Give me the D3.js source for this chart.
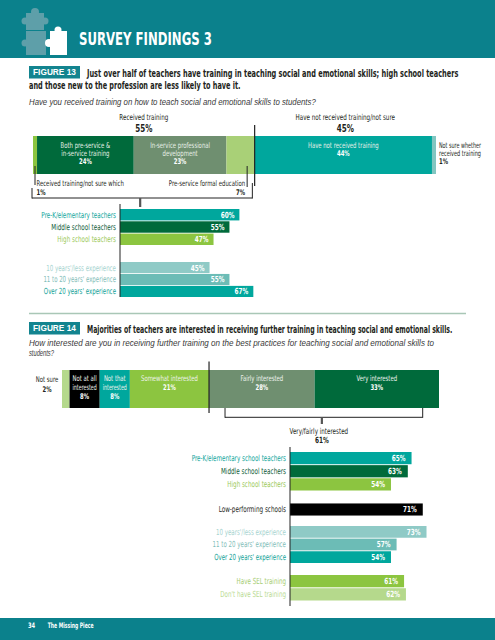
<!DOCTYPE html>
<html><head><meta charset="utf-8">
<script src="https://cdn.jsdelivr.net/npm/d3@7"></script>
<style>body{margin:0;background:#fff}svg{display:block}</style>
</head><body>
<script>
// ---------- DATA ----------
const fig13Segments = ["Received training/not sure which","Both pre-service & in-service training","In-service professional development","Pre-service formal education","Have not received training","Not sure whether received training"];
const fig13Values = [1,24,23,7,44,1];
const fig13Groups = ["Received training","Have not received training/not sure"];
const fig13GroupValues = [55,45];
const fig13LevelCats = ["Pre-K/elementary teachers","Middle school teachers","High school teachers"];
const fig13LevelValues = [60,55,47];
const fig13ExpCats = ["10 years'/less experience","11 to 20 years' experience","Over 20 years' experience"];
const fig13ExpValues = [45,55,67];

const fig14Segments = ["Not sure","Not at all interested","Not that interested","Somewhat interested","Fairly interested","Very interested"];
const fig14Values = [2,8,8,21,28,33];
const fig14CombinedLabel = "Very/fairly interested";
const fig14CombinedValue = 61;
const fig14LevelCats = ["Pre-K/elementary school teachers","Middle school teachers","High school teachers"];
const fig14LevelValues = [65,63,54];
const fig14SchoolCats = ["Low-performing schools"];
const fig14SchoolValues = [71];
const fig14ExpCats = ["10 years'/less experience","11 to 20 years' experience","Over 20 years' experience"];
const fig14ExpValues = [73,57,54];
const fig14SelCats = ["Have SEL training","Don't have SEL training"];
const fig14SelValues = [61,62];

// ---------- STYLE ----------
const C = {
  header:"#0b818c", box:"#13848f", teal:"#00a79d", dark:"#006a3b", grey:"#6f8f70",
  green:"#8cc540", pale:"#a9d077", paleB:"#b5d98c", lteal:"#82c6c1", teal1:"#8fcac6", teal2:"#6cbcb6",
  black:"#000", ink:"#231f20"
};
const F = "'Liberation Sans Narrow','DejaVu Sans Condensed',sans-serif";
const K = 0.76; // condensing factor

const svg = d3.select("body").append("svg").attr("width",495).attr("height",640)
  .attr("font-family",F);

// horizontally condense a text element via a scale transform (keeps anchor position)
function squeeze(t,w,maxW){
  const n = t.node();
  const nat = n.getComputedTextLength();
  if(!nat) return;
  let len = w || nat*K;
  if(maxW) len = Math.min(len,maxW);
  const sx = len/nat;
  const x = +t.attr("x");
  t.attr("x",x/sx).attr("transform",`scale(${sx},1)`);
}
function T(x,y,str,o={}){
  const t = svg.append("text").attr("x",x).attr("y",y).text(str)
    .attr("font-size",o.size||8).attr("fill",o.fill||C.ink)
    .attr("text-anchor",o.anchor||"start").attr("font-weight",o.weight||"normal");
  if(o.italic) t.attr("font-style","italic");
  if(o.family) t.attr("font-family",o.family);
  squeeze(t,o.w,o.maxW);
  return t;
}
function L(x1,y1,x2,y2,o={}){
  svg.append("line").attr("x1",x1).attr("y1",y1).attr("x2",x2).attr("y2",y2)
    .attr("stroke",o.stroke||"#222").attr("stroke-width",o.sw||1);
}

// ---------- HEADER ----------
svg.append("rect").attr("x",0).attr("y",0).attr("width",495).attr("height",58).attr("fill",C.header);
const pz = svg.append("g");
const pg = "#5e9fa9";
pz.append("rect").attr("x",26).attr("y",13).attr("width",18).attr("height",17).attr("fill",pg);
pz.append("circle").attr("cx",35).attr("cy",12).attr("r",4).attr("fill",pg);
pz.append("circle").attr("cx",25).attr("cy",21).attr("r",3.5).attr("fill",pg);
pz.append("circle").attr("cx",45).attr("cy",21).attr("r",3.5).attr("fill",pg);
pz.append("rect").attr("x",26).attr("y",31).attr("width",20).attr("height",24).attr("fill",pg);
pz.append("circle").attr("cx",25).attr("cy",43).attr("r",3.5).attr("fill",pg);
pz.append("rect").attr("x",50).attr("y",31).attr("width",17).attr("height",24).attr("fill","#fff");
pz.append("circle").attr("cx",49).attr("cy",43).attr("r",4).attr("fill","#fff");
pz.append("circle").attr("cx",58).attr("cy",30).attr("r",3.5).attr("fill","#fff");
T(79,45,"SURVEY FINDINGS 3",{size:18,weight:"bold",fill:"#fff",w:133});

// ---------- FIGURE 13 ----------
svg.append("rect").attr("x",29).attr("y",66).attr("width",51).attr("height",12.5).attr("fill",C.box);
T(54.5,75.5,"FIGURE 13",{size:8.5,weight:"bold",fill:"#fff",anchor:"middle",family:"'Liberation Sans',sans-serif",w:43});
T(87,77,"Just over half of teachers have training in teaching social and emotional skills; high school teachers",{size:11,weight:"bold",w:372});
T(29,89.5,"and those new to the profession are less likely to have it.",{size:11,weight:"bold",w:212});
T(29,105.5,"Have you received training on how to teach social and emotional skills to students?",{size:8.5,italic:true,fill:"#3a3a3a",family:"'Liberation Sans',sans-serif",w:287});

const x13 = d3.scaleLinear().domain([0,100]).range([33,436]);
const col13 = [C.green,C.dark,C.grey,C.pale,C.teal,C.lteal];
const cum13 = d3.cumsum(fig13Values);
const by0=136, by1=174;
svg.append("g").selectAll("rect").data(fig13Values).join("rect")
  .attr("x",(d,i)=>x13(cum13[i]-d)).attr("width",(d,i)=>x13(cum13[i])-x13(cum13[i]-d))
  .attr("y",by0).attr("height",by1-by0).attr("fill",(d,i)=>col13[i]);

const g13 = d3.cumsum(fig13GroupValues);
fig13Groups.forEach((g,i)=>{
  const cx = (x13(g13[i]-fig13GroupValues[i])+x13(g13[i]))/2;
  T(cx,120.5,g,{anchor:"middle",size:8.2});
  T(cx,132.5,fig13GroupValues[i]+"%",{anchor:"middle",size:10.5,weight:"bold"});
});
L(x13(g13[0]),125,x13(g13[0]),186,{sw:1.2});

const lines13 = {1:["Both pre-service &","in-service training"],2:["In-service professional","development"],4:["Have not received training"]};
Object.keys(lines13).forEach(k=>{
  const i=+k, cx=(x13(cum13[i]-fig13Values[i])+x13(cum13[i]))/2;
  const ls = lines13[k];
  ls.forEach((s,j)=>T(cx,147.7+j*8.4,s,{anchor:"middle",size:7.8,fill:"#e8f0e8"}));
  T(cx,147.7+ls.length*8.4,fig13Values[i]+"%",{anchor:"middle",size:7.8,fill:"#fff",weight:"bold"});
});
["Not sure whether","received training"].forEach((s,j)=>T(x13(100)+3,147.7+j*8.4,s,{size:7.8,maxW:42}));
T(x13(100)+3,164.5,fig13Values[5]+"%",{size:7.8,weight:"bold"});
const c0 = (x13(0)+x13(cum13[0]))/2;
L(c0,166,c0,185);
T(c0+1.5,186.5,fig13Segments[0],{size:7.8});
T(c0+1.5,195,fig13Values[0]+"%",{size:7.8,weight:"bold"});
const c3 = x13(cum13[3])-7.5;
L(c3,166,c3,187);
T(c3-2,186.5,fig13Segments[3],{size:7.8,anchor:"end"});
T(c3-2,195,fig13Values[3]+"%",{size:7.8,weight:"bold",anchor:"end"});
const bl=x13(0)-1, br=x13(g13[0])-2.3;
L(bl,198,br,198); L(bl,188,bl,198.5); L(br,183,br,198.5);
L((bl+br)/2-2,198,(bl+br)/2-2,207,{sw:2.2,stroke:"#555"});

const xb13 = d3.scaleLinear().domain([0,100]).range([120,319]);
function barGroup(cats,vals,range,xs,barCols,labCols,labW,valPad){
  const y = d3.scaleBand().domain(cats).range(range).paddingInner(0.07);
  const g = svg.append("g");
  g.selectAll("rect").data(vals).join("rect")
    .attr("x",xs(0)).attr("y",(d,i)=>y(cats[i])).attr("width",d=>xs(d)-xs(0))
    .attr("height",y.bandwidth()).attr("fill",(d,i)=>barCols[i]);
  g.selectAll("text.v").data(vals).join("text").attr("class","v")
    .attr("x",d=>xs(d)-valPad).attr("y",(d,i)=>y(cats[i])+y.bandwidth()/2+3)
    .attr("text-anchor","end").attr("fill","#fff").attr("font-size",8.4).attr("font-weight","bold")
    .text(d=>d+"%").each(function(){squeeze(d3.select(this));});
  g.selectAll("text.c").data(cats).join("text").attr("class","c")
    .attr("x",xs(0)-4).attr("y",d=>y(d)+y.bandwidth()/2+3)
    .attr("text-anchor","end").attr("fill",(d,i)=>labCols[i]).attr("font-size",8.4)
    .text(d=>d).each(function(d,i){squeeze(d3.select(this),labW[i]);});
}
barGroup(fig13LevelCats,fig13LevelValues,[209,245],xb13,[C.teal,C.dark,C.green],["#0fa59b","#0d5a36","#9bc95a"],[74.6,64.6,58.6],5);
barGroup(fig13ExpCats,fig13ExpValues,[262,297],xb13,[C.teal1,C.teal2,C.teal],["#a6d3cf","#7fbdb8","#109f96"],[69.6,72.6,72],5);
L(xb13(0),204,xb13(0),297);

L(29,313.5,466,313.5,{stroke:"#a9c7b6",sw:1.6});

// ---------- FIGURE 14 ----------
svg.append("rect").attr("x",29).attr("y",322).attr("width",51).attr("height",12.5).attr("fill",C.box);
T(54.5,331.5,"FIGURE 14",{size:8.5,weight:"bold",fill:"#fff",anchor:"middle",family:"'Liberation Sans',sans-serif",w:43});
T(87,333,"Majorities of teachers are interested in receiving further training in teaching social and emotional skills.",{size:11,weight:"bold",w:366});
T(29,346,"How interested are you in receiving further training on the best practices for teaching social and emotional skills to",{size:8.5,italic:true,fill:"#3a3a3a",family:"'Liberation Sans',sans-serif",w:406});
T(29,356,"students?",{size:8.5,italic:true,fill:"#3a3a3a",family:"'Liberation Sans',sans-serif",w:25});

const x14 = d3.scaleLinear().domain([0,100]).range([62,439]);
const col14 = [C.paleB,C.black,C.teal,C.green,C.grey,C.dark];
const cum14 = d3.cumsum(fig14Values);
svg.append("g").selectAll("rect").data(fig14Values).join("rect")
  .attr("x",(d,i)=>x14(cum14[i]-d)).attr("width",(d,i)=>x14(cum14[i])-x14(cum14[i]-d))
  .attr("y",370).attr("height",38).attr("fill",(d,i)=>col14[i]);
const lines14 = {1:["Not at all","interested"],2:["Not that","interested"],3:["Somewhat interested"],4:["Fairly interested"],5:["Very interested"]};
Object.keys(lines14).forEach(k=>{
  const i=+k, x0=x14(cum14[i]-fig14Values[i]), x1=x14(cum14[i]), cx=(x0+x1)/2;
  const ls=lines14[k];
  ls.forEach((s,j)=>T(cx,381.5+j*8.7,s,{anchor:"middle",size:7.8,fill:"#eef3ee",maxW:x1-x0-6}));
  T(cx,381.5+ls.length*8.7,fig14Values[i]+"%",{anchor:"middle",size:7.8,fill:"#fff",weight:"bold"});
});
T(x14(0)-15,382.5,"Not sure",{anchor:"middle",size:7.8});
T(x14(0)-15,392,fig14Values[0]+"%",{anchor:"middle",size:7.8,weight:"bold"});
const div14 = x14(cum14[3]);
L(div14,361.5,div14,413,{sw:1.2});
const bl14=div14+16, br14=x14(100)-16.3;
L(bl14,417.3,br14,417.3); L(bl14,408,bl14,417.8); L(br14,408,br14,417.8);
const mid14=(bl14+br14)/2-2;
L(mid14,417.3,mid14,424,{sw:2.2,stroke:"#555"});
T(mid14-3,434,fig14CombinedLabel,{anchor:"middle",size:8.2});
T(mid14,443.5,fig14CombinedValue+"%",{anchor:"middle",size:8.5,weight:"bold"});

const xb14 = d3.scaleLinear().domain([0,100]).range([290,477]);
barGroup(fig14LevelCats,fig14LevelValues,[452,490.5],xb14,[C.teal,C.dark,C.green],["#0fa59b","#0d5a36","#9bc95a"],[94.3,65,58.7],6);
barGroup(fig14SchoolCats,fig14SchoolValues,[503,516],xb14,[C.black],["#231f20"],[67.3],6);
barGroup(fig14ExpCats,fig14ExpValues,[526,563],xb14,[C.teal1,C.teal2,C.teal],["#a6d3cf","#7fbdb8","#109f96"],[70,73.3,71.7],6);
barGroup(fig14SelCats,fig14SelValues,[575,600.5],xb14,[C.green,C.paleB],["#a6cd72","#b9da92"],[49.3,65.7],6);
L(xb14(0),447,xb14(0),606);

// ---------- FOOTER ----------
svg.append("rect").attr("x",0).attr("y",618).attr("width",495).attr("height",22).attr("fill",C.header);
T(28,628.5,"34",{size:7.5,fill:"#fff",weight:"bold"});
T(47.7,628.5,"The Missing Piece",{size:7.5,fill:"#fff",weight:"bold",w:46});
</script>
</body></html>
